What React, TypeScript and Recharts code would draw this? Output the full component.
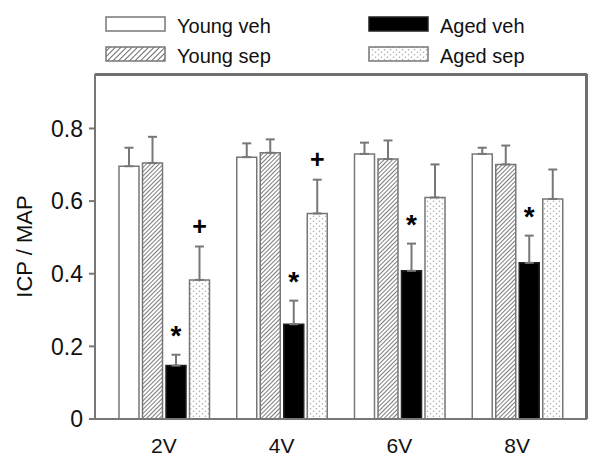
import React from "react";
import { BarChart, Bar, XAxis, YAxis, ErrorBar, LabelList, Legend, ReferenceLine, CartesianGrid } from "recharts";

const categories = ["2V", "4V", "6V", "8V"];
const youngVeh = [0.696, 0.721, 0.73, 0.73];
const youngVehErr = [0.051, 0.038, 0.031, 0.017];
const youngSep = [0.705, 0.733, 0.716, 0.701];
const youngSepErr = [0.072, 0.037, 0.051, 0.052];
const agedVeh = [0.147, 0.261, 0.408, 0.43];
const agedVehErr = [0.03, 0.065, 0.075, 0.075];
const agedSep = [0.383, 0.566, 0.61, 0.606];
const agedSepErr = [0.092, 0.093, 0.091, 0.081];
const agedVehMarks = ["*", "*", "*", "*"];
const agedSepMarks = ["+", "+", "", ""];
const yTicks = [0, 0.2, 0.4, 0.6, 0.8];
const yMax = 0.95;

const data = categories.map((name, i) => ({
  name,
  youngVeh: youngVeh[i],
  youngVehErr: [0, youngVehErr[i]],
  youngSep: youngSep[i],
  youngSepErr: [0, youngSepErr[i]],
  agedVeh: agedVeh[i],
  agedVehErr: [0, agedVehErr[i]],
  agedSep: agedSep[i],
  agedSepErr: [0, agedSepErr[i]],
}));

const W = 600;
const H = 459;
const LEGEND_H = 74;
const RIGHT = 12;
const AXIS = "#777";
const FRAME = "#6f6f6f";
const INK = "#111";
const FONT = "'Liberation Sans', Arial, Helvetica, sans-serif";

// legend slots: col/row as in the figure
const series = [
  { key: "youngVeh", name: "Young veh", fill: "#fff", legendFill: "#fff", stroke: AXIS, col: 0, row: 0 },
  { key: "youngSep", name: "Young sep", fill: "url(#hatch)", legendFill: "url(#hatchLg)", stroke: AXIS, col: 0, row: 1 },
  { key: "agedVeh", name: "Aged veh", fill: "#000", legendFill: "#000", stroke: "#222", col: 1, row: 0 },
  { key: "agedSep", name: "Aged sep", fill: "url(#dots)", legendFill: "url(#dots)", stroke: AXIS, col: 1, row: 1 },
];

function LegendBlock() {
  return (
    <div style={{ position: "relative", width: W, height: LEGEND_H, fontFamily: FONT }}>
      {series.map((s) => {
        const left = s.col === 0 ? 105 : 368;
        const top = s.row === 0 ? 16 : 46;
        return (
          <div key={s.key}>
            <svg width={62} height={17} style={{ position: "absolute", left, top }}>
              <rect x={1} y={1} width={59} height={14} fill={s.legendFill} stroke={s.stroke} strokeWidth={1.5} />
            </svg>
            <span
              style={{
                position: "absolute",
                left: left + 72,
                top: top - 2,
                fontSize: 20,
                lineHeight: "24px",
                color: INK,
                whiteSpace: "nowrap",
              }}
            >
              {s.name}
            </span>
          </div>
        );
      })}
    </div>
  );
}

const markLabel = (marks: string[], errs: number[], vals: number[]) => (props: any) => {
  const { x, y, width, height, index } = props;
  const m = marks[index];
  if (!m) return null;
  const errTop = y - (errs[index] / vals[index]) * height;
  const star = m === "*";
  return (
    <text
      x={x + width / 2}
      y={star ? errTop - 10 : errTop - 12}
      textAnchor="middle"
      fontSize={star ? 28 : 25}
      fontWeight="bold"
      fontFamily={FONT}
      fill="#000"
    >
      {m}
    </text>
  );
};

export default function App() {
  return (
    <div style={{ position: "absolute", left: 0, top: 0, background: "#fff" }}>
      <BarChart
        width={W}
        height={H}
        data={data}
        margin={{ top: 0, right: RIGHT, bottom: 0, left: 0 }}
        barSize={20}
        barGap={3.5}
      >
        <defs>
          <pattern id="hatch" patternUnits="userSpaceOnUse" width="3" height="3" patternTransform="rotate(45)">
            <rect width="3" height="3" fill="#fff" />
            <line x1="0" y1="0" x2="0" y2="3" stroke="#444" strokeWidth="1.4" />
          </pattern>
          <pattern id="hatchLg" patternUnits="userSpaceOnUse" width="3.9" height="3.9" patternTransform="rotate(45)">
            <rect width="3.9" height="3.9" fill="#fff" />
            <line x1="0" y1="0" x2="0" y2="3.9" stroke="#444" strokeWidth="1.6" />
          </pattern>
          <pattern id="dots" patternUnits="userSpaceOnUse" width="6" height="5">
            <rect width="6" height="5" fill="#fff" />
            <circle cx="1.5" cy="1.2" r="0.8" fill="#aaa" />
            <circle cx="4.5" cy="3.7" r="0.8" fill="#aaa" />
          </pattern>
        </defs>
        <Legend verticalAlign="top" wrapperStyle={{ top: 0, left: 0 }} content={() => <LegendBlock />} />
        {/* plot frame: top and right edges */}
        <CartesianGrid
          stroke={FRAME}
          strokeWidth={2}
          horizontalPoints={[LEGEND_H + 1]}
          verticalPoints={[W - RIGHT - 2]}
        />
        <XAxis
          dataKey="name"
          padding={{ left: 10, right: 11 }}
          height={40}
          tickLine={false}
          tickSize={6}
          tickMargin={13}
          axisLine={{ stroke: AXIS, strokeWidth: 2 }}
          tick={{ fontSize: 21, fill: INK, fontFamily: FONT }}
        />
        <YAxis
          width={95}
          domain={[0, yMax]}
          ticks={yTicks}
          tickSize={6}
          tickMargin={6}
          tickFormatter={(v: number) => (v === 0 ? "0" : v.toFixed(1))}
          tickLine={{ stroke: AXIS, strokeWidth: 2 }}
          axisLine={{ stroke: AXIS, strokeWidth: 2 }}
          tick={{ fontSize: 23, fill: INK, fontFamily: FONT }}
          label={{
            value: "ICP / MAP",
            angle: -90,
            position: "insideLeft",
            offset: 24,
            textAnchor: "middle",
            style: { fontSize: 22, fill: INK, fontFamily: FONT, textAnchor: "middle" },
          }}
        />
        <YAxis
          yAxisId="r"
          orientation="right"
          width={1}
          domain={[0, yMax]}
          tick={false}
          tickLine={false}
          axisLine={{ stroke: FRAME, strokeWidth: 2 }}
        />
        <ReferenceLine y={yMax} stroke={FRAME} strokeWidth={2} />
        {series.map((s) => (
          <Bar
            key={s.key}
            dataKey={s.key}
            name={s.name}
            fill={s.fill}
            stroke={s.stroke}
            strokeWidth={1.5}
            isAnimationActive={false}
          >
            <ErrorBar dataKey={`${s.key}Err`} width={4.5} stroke={AXIS} strokeWidth={2} direction="y" />
            {s.key === "agedVeh" && (
              <LabelList dataKey="agedVeh" content={markLabel(agedVehMarks, agedVehErr, agedVeh)} />
            )}
            {s.key === "agedSep" && (
              <LabelList dataKey="agedSep" content={markLabel(agedSepMarks, agedSepErr, agedSep)} />
            )}
          </Bar>
        ))}
      </BarChart>
    </div>
  );
}
